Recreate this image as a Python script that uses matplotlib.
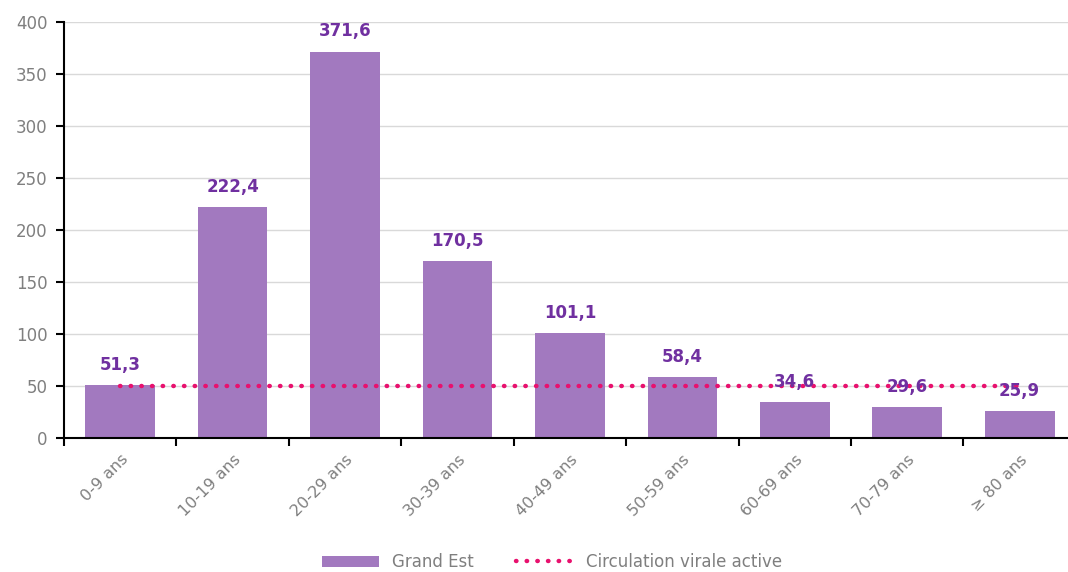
import matplotlib.pyplot as plt
import numpy as np

categories = ["0-9 ans", "10-19 ans", "20-29 ans", "30-39 ans", "40-49 ans",
              "50-59 ans", "60-69 ans", "70-79 ans", "≥ 80 ans"]
rates = [51.3, 222.4, 371.6, 170.5, 101.1, 58.4, 34.6, 29.6, 25.9]
threshold = [50] * len(categories)

bar_color = "#A279BF"
label_color = "#7030A0"
line_color = "#E8116E"
text_gray = "#7F7F7F"

fig = plt.figure(figsize=(10.68, 5.72), dpi=100)
ax = fig.add_axes([64 / 1068, 134 / 572, 1004 / 1068, 416 / 572])

x = np.arange(len(categories))
bars = ax.bar(x, rates, width=0.62, color=bar_color, label="Grand Est", zorder=2)
line, = ax.plot(x, threshold, linestyle=(0, (0.1, 2.3)), dash_capstyle="round",
                color=line_color, linewidth=3.2, label="Circulation virale active", zorder=3)

for xi, v in zip(x, rates):
    ax.annotate(f"{v:.1f}".replace(".", ","), (xi, v), xytext=(0, 8),
                textcoords="offset points", ha="center", va="bottom",
                color=label_color, fontweight="bold", fontsize=12, zorder=4)

ax.set_xlim(-0.5, 8.43)
ax.set_ylim(0, 400)
ax.set_yticks(range(0, 401, 50))
ax.yaxis.grid(True, color="#D9D9D9", linewidth=1, zorder=0)
ax.set_axisbelow(True)

ax.set_xticks(x)
ax.set_xticklabels(categories, rotation=45, ha="right", rotation_mode="anchor",
                   color=text_gray, fontsize=11.5)
ax.tick_params(axis="x", length=0, pad=10)
ax.set_xticks(np.arange(-0.5, 8.5, 1), minor=True)
ax.tick_params(axis="x", which="minor", length=6, width=1.5, color="black", direction="out")
ax.tick_params(axis="y", length=6, width=1.5, color="black", labelcolor=text_gray,
               labelsize=12, pad=6)

for side in ["top", "right"]:
    ax.spines[side].set_visible(False)
ax.spines["left"].set_linewidth(1.5)
ax.spines["bottom"].set_linewidth(1.5)

leg = fig.legend([bars, line], ["Grand Est", "Circulation virale active"],
                 loc="lower center", bbox_to_anchor=(0.517, -0.025), ncol=2,
                 frameon=False, fontsize=12, handlelength=3.4, columnspacing=2.5)
for t in leg.get_texts():
    t.set_color(text_gray)

fig.savefig("out.png", dpi=100)
